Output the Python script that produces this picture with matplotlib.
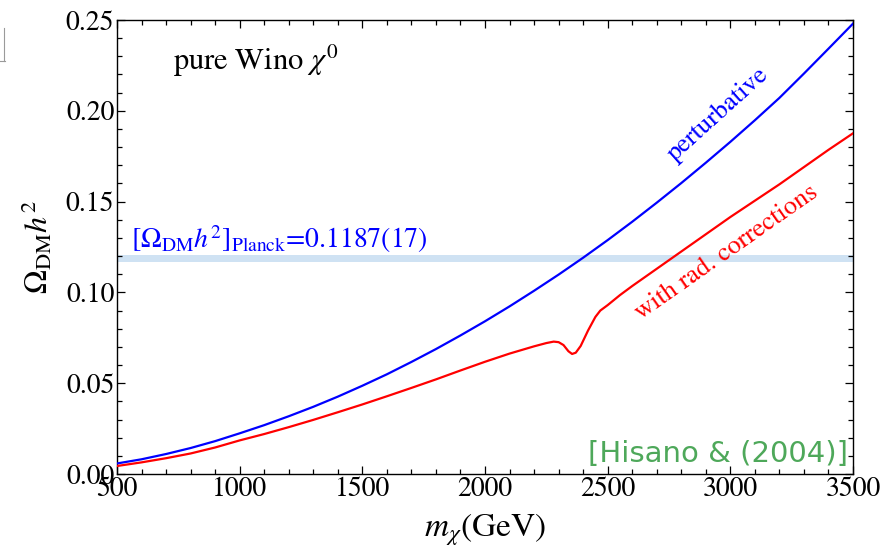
import matplotlib
matplotlib.use("Agg")
import matplotlib.pyplot as plt
from matplotlib.ticker import MultipleLocator, FormatStrFormatter
from matplotlib.lines import Line2D

plt.rcParams["font.family"] = ["STIXGeneral", "DejaVu Serif"]
plt.rcParams["mathtext.fontset"] = "stix"

# wino mass (GeV) and relic abundance, tree-level annihilation
m_pert = [500, 600, 700, 800, 900, 1000, 1100, 1200, 1300, 1400, 1500,
          1600, 1700, 1800, 1900, 2000, 2100, 2200, 2300, 2400, 2500,
          2600, 2700, 2800, 2900, 3000, 3100, 3200, 3300, 3400, 3500]
omega_pert = [0.0058, 0.0081, 0.0110, 0.0143, 0.0181, 0.0224, 0.0269,
              0.0318, 0.0370, 0.0426, 0.0486, 0.0549, 0.0617, 0.0688,
              0.0763, 0.0841, 0.0923, 0.1009, 0.1098, 0.1191, 0.1288,
              0.1389, 0.1494, 0.1602, 0.1714, 0.1829, 0.1948, 0.2071,
              0.2205, 0.2342, 0.2480]

# with Sommerfeld / radiative corrections
m_rad = [500, 600, 700, 800, 900, 1000, 1100, 1200, 1300, 1400, 1500,
         1600, 1700, 1800, 1900, 2000, 2100, 2200, 2250, 2280, 2300,
         2320, 2340, 2355, 2370, 2390, 2420, 2450, 2470, 2500, 2550,
         2600, 2700, 2800, 2900, 3000, 3100, 3200, 3300, 3400, 3500]
omega_rad = [0.0044, 0.0064, 0.0087, 0.0113, 0.0146, 0.0185, 0.0220,
             0.0258, 0.0298, 0.0340, 0.0383, 0.0428, 0.0474, 0.0521,
             0.0570, 0.0618, 0.0663, 0.0703, 0.0721, 0.0729, 0.0726,
             0.0710, 0.0676, 0.0661, 0.0668, 0.0705, 0.0790, 0.0865,
             0.0900, 0.0930, 0.0985, 0.1035, 0.1130, 0.1225, 0.1320,
             0.1415, 0.1505, 0.1595, 0.1690, 0.1785, 0.1876]

planck_central = 0.1187
planck_err = 0.0017

fig = plt.figure(figsize=(8.9, 5.5), dpi=100)
ax = fig.add_axes([0.1315, 0.1382, 0.8269, 0.8254])

ax.axhspan(planck_central - planck_err, planck_central + planck_err,
           color="#cfe2f3", lw=0, zorder=1)
ax.plot(m_pert, omega_pert, color="#0000ff", lw=1.6, zorder=3)
ax.plot(m_rad, omega_rad, color="#ff0000", lw=1.6, zorder=3)

ax.set_xlim(500, 3500)
ax.set_ylim(0, 0.25)
ax.xaxis.set_major_locator(MultipleLocator(500))
ax.xaxis.set_minor_locator(MultipleLocator(100))
ax.yaxis.set_major_locator(MultipleLocator(0.05))
ax.yaxis.set_minor_locator(MultipleLocator(0.01))
ax.yaxis.set_major_formatter(FormatStrFormatter("%.2f"))
ax.tick_params(which="both", direction="in", top=True, right=True,
               labelsize=20, width=0.9)
ax.tick_params(which="major", length=6, pad=2)
ax.tick_params(which="minor", length=3.5)
for sp in ax.spines.values():
    sp.set_linewidth(1.0)

ax.set_xlabel(r"$m_\chi$(GeV)", fontsize=24, labelpad=7)
ax.set_ylabel(r"$\Omega_{\rm DM}h^2$", fontsize=23, labelpad=8)

ax.text(730, 0.2225, r"pure Wino $\chi^0$", fontsize=22, ha="left",
        va="baseline")
ax.text(555, 0.1244, r"$[\Omega_{\rm DM}h^2]_{\rm Planck}$=0.1187(17)",
        fontsize=20, color="#0000ff", ha="left", va="baseline")
ax.text(2950, 0.198, "perturbative", fontsize=19, color="#0000ff",
        rotation=42, ha="center", va="center", rotation_mode="anchor")
ax.text(2987, 0.122, "with rad. corrections", fontsize=19, color="#ff0000",
        rotation=35, ha="center", va="center", rotation_mode="anchor")
ax.text(3480, 0.0068, "[Hisano & (2004)]", fontsize=21, color="#4ea85a",
        family="DejaVu Sans", ha="right", va="baseline")

# leftover bracket from a neighbouring panel
fig.add_artist(Line2D([0.004, 0.004], [0.89, 0.95], color="#9a9a9a",
                      lw=0.8, transform=fig.transFigure))
fig.add_artist(Line2D([0.0, 0.006], [0.89, 0.89], color="#9a9a9a",
                      lw=0.8, transform=fig.transFigure))

fig.savefig("out.png", dpi=100)
